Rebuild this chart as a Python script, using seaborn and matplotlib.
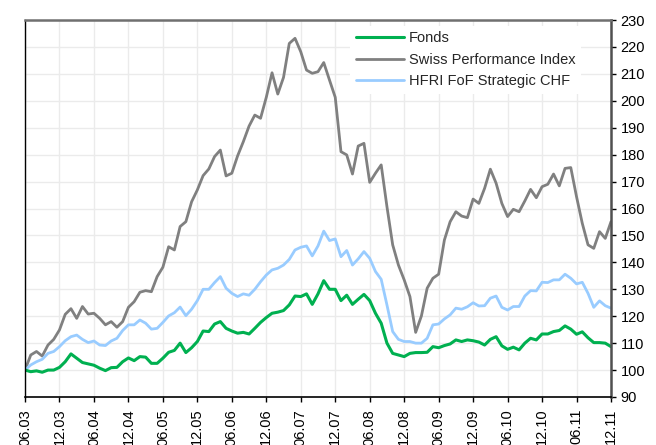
import matplotlib
matplotlib.use("Agg")
import matplotlib.pyplot as plt
import seaborn as sns
import pandas as pd
import numpy as np

# Monthly index values (base 100 = June 2003), June 2003 .. December 2011
fonds = [100, 99.4, 99.7, 99.2, 100, 100, 101, 103.1, 106, 104.4,
         102.8, 102.3, 101.8, 100.7, 99.8, 100.9, 101, 103.1, 104.5, 103.5,
         105, 104.8, 102.5, 102.5, 104.4, 106.6, 107.3, 110, 106.5, 108.3,
         110.6, 114.5, 114.3, 117.1, 118, 115.5, 114.5, 113.7, 114, 113.4,
         115.5, 117.7, 119.5, 121.1, 121.5, 122.1, 124.2, 127.5, 127.3, 128.3,
         124.4, 128.3, 133.2, 130, 130, 125.8, 127.8, 124.4, 126.3, 128.1,
         125.8, 121.1, 117.4, 110, 106.2, 105.6, 105, 106.2, 106.5, 106.5,
         106.6, 108.7, 108.3, 109.1, 109.7, 111.2, 110.6, 111.2, 110.9, 110.4,
         109.3, 111.4, 112.4, 109, 107.7, 108.5, 107.5, 110, 111.8, 111.2,
         113.4, 113.4, 114.3, 114.7, 116.4, 115.2, 113.3, 114.2, 112, 110.2,
         110.2, 110, 108.7]

spi = [100, 105.6, 106.9, 105.2, 109.3, 111.4, 114.9, 120.7, 122.8, 119.2,
       123.6, 120.8, 121.1, 119.2, 116.8, 118, 115.9, 118, 123.3, 125.4,
       128.9, 129.5, 129.1, 134.7, 138.2, 145.8, 144.6, 153.3, 155.1, 162.5,
       166.9, 172.2, 174.7, 179.3, 181.7, 172.1, 173.1, 179.5, 184.8, 190.6,
       194.7, 193.5, 201.3, 210.4, 202.5, 208.7, 221.3, 223.2, 218.2, 211.4,
       210.2, 210.8, 214.2, 207.7, 201.3, 181.1, 179.9, 172.8, 183.2, 184.2,
       169.7, 173.1, 176.2, 160.7, 146.5, 139, 133.5, 127.3, 114, 120.1,
       130.4, 134.1, 135.6, 148.3, 155.1, 158.8, 157.2, 156.6, 163.5, 161.9,
       167.5, 174.6, 169.4, 161.9, 157, 159.7, 158.8, 162.8, 167.1, 164,
       168.1, 169, 172.8, 168.4, 174.9, 175.2, 164.4, 154.5, 146.5, 145.2,
       151.4, 148.9, 155.1]

hfri = [100, 101.9, 103.1, 104, 106.2, 106.9, 108.7, 110.9, 112.4, 113,
        111.4, 110.2, 110.8, 109.3, 109.1, 110.8, 111.8, 114.7, 116.8, 116.8,
        118.6, 117.4, 115.2, 115.5, 117.7, 120.1, 121.3, 123.4, 120.2, 122.6,
        125.8, 130, 130, 132.5, 134.7, 130.4, 128.5, 127.3, 128.3, 127.8,
        130, 132.8, 135.3, 137.2, 137.8, 139, 141.1, 144.6, 145.6, 146.1,
        142.4, 146.1, 151.6, 148.1, 148.7, 142.1, 144.4, 139, 141.3, 144,
        141.5, 136.6, 133.7, 124.2, 114.3, 111.4, 110.6, 110.6, 110, 110,
        111.8, 116.8, 117.1, 119, 120.5, 123, 122.6, 123.5, 125, 123.8,
        123.9, 126.7, 127.5, 123.3, 122.3, 123.6, 123.6, 127.5, 129.5, 129.4,
        132.6, 132.5, 133.5, 133.5, 135.6, 134.1, 132, 132.6, 128.5, 123.3,
        125.7, 123.9, 123]

tick_labels = ["06.03", "12.03", "06.04", "12.04", "06.05", "12.05",
               "06.06", "12.06", "06.07", "12.07", "06.08", "12.08",
               "06.09", "12.09", "06.10", "12.10", "06.11", "12.11"]

series_names = ["Fonds", "Swiss Performance Index", "HFRI FoF Strategic CHF"]
series_colors = ["#00B050", "#808080", "#99CCFF"]

month = np.arange(len(fonds))
df = pd.DataFrame({"month": month,
                   series_names[0]: fonds,
                   series_names[1]: spi,
                   series_names[2]: hfri})
long_df = df.melt(id_vars="month", var_name="series", value_name="value")

sns.set_theme(style="white")
plt.rcParams["font.family"] = ["Liberation Sans", "DejaVu Sans"]

fig = plt.figure(figsize=(6.56, 4.45), dpi=100)
ax = fig.add_axes([25 / 656, 1 - 397 / 445, 586 / 656, 377 / 445])

widths = {series_names[0]: 2.2, series_names[1]: 2.0, series_names[2]: 2.0}
order = [series_names[1], series_names[2], series_names[0]]
for name in order:
    sub = long_df[long_df["series"] == name]
    sns.lineplot(data=sub, x="month", y="value", ax=ax,
                 color=series_colors[series_names.index(name)],
                 linewidth=widths[name], label=name, legend=False)

ax.set_xlim(0, len(fonds) - 1)
ax.set_ylim(90, 230)
ax.set_xticks(np.arange(0, len(fonds), 6))
ax.set_xticklabels(tick_labels, rotation=90, fontsize=10.5, color="black")
ax.set_yticks(np.arange(90, 231, 10))
ax.yaxis.tick_right()
ax.tick_params(axis="y", labelsize=10.5, colors="black", length=3.5,
               width=1, pad=3.5, right=True, left=False, direction="out")
ax.tick_params(axis="x", length=3.5, width=1, pad=5, bottom=True,
               direction="out", colors="black")
ax.set_xlabel("")
ax.set_ylabel("")

ax.grid(True, color="#EBEBEB", linewidth=1)
ax.set_axisbelow(True)

ax.spines["left"].set_color("black")
ax.spines["left"].set_linewidth(1)
ax.spines["bottom"].set_color("black")
ax.spines["bottom"].set_linewidth(1.2)
ax.spines["top"].set_color("#707070")
ax.spines["top"].set_linewidth(1.8)
ax.spines["right"].set_color("#505050")
ax.spines["right"].set_linewidth(1.8)
for s in ax.spines.values():
    s.set_visible(True)

handles = {h.get_label(): h for h in ax.get_lines()}
leg = ax.legend([handles[n] for n in series_names], series_names,
                loc="upper left", bbox_to_anchor=(0.555, 0.985),
                fontsize=10.5, frameon=True, facecolor="white",
                edgecolor="none", framealpha=1, fancybox=False,
                handlelength=3.3, handletextpad=0.3, labelspacing=0.5,
                borderpad=0.4, borderaxespad=0)

fig.savefig("out.png", dpi=100)
